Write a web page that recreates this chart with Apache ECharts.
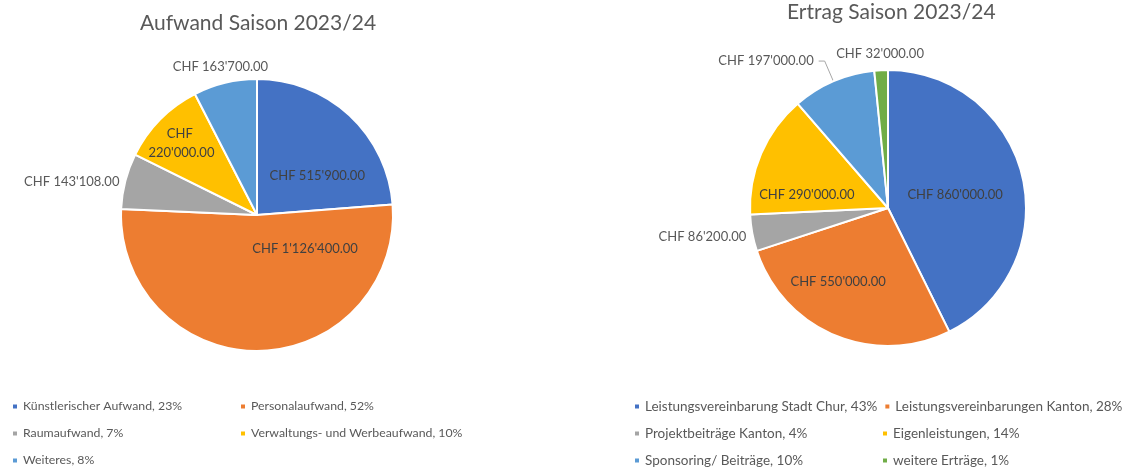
<!DOCTYPE html>
<html>
<head>
<meta charset="utf-8">
<script src="https://cdn.jsdelivr.net/npm/echarts@6/dist/echarts.min.js"></script>
<style>
  html, body { margin: 0; background: #fff; }
  #chart { width: 1146px; height: 469px; }
</style>
</head>
<body>
<div id="chart"></div>
<script>
// Aufwand (left pie)
const aufwandNames = ['Künstlerischer Aufwand', 'Personalaufwand', 'Raumaufwand', 'Verwaltungs- und Werbeaufwand', 'Weiteres'];
const aufwandValues = [515900, 1126400, 143108, 220000, 163700];
const aufwandPct = [23, 52, 7, 10, 8];
// Ertrag (right pie)
const ertragNames = ['Leistungsvereinbarung Stadt Chur', 'Leistungsvereinbarungen Kanton', 'Projektbeiträge Kanton', 'Eigenleistungen', 'Sponsoring/ Beiträge', 'weitere Erträge'];
const ertragValues = [860000, 550000, 86200, 290000, 197000, 32000];
const ertragPct = [43, 28, 4, 14, 10, 1];

const colors = ['#4472C4', '#ED7D31', '#A5A5A5', '#FFC000', '#5B9BD5', '#70AD47'];
const font = 'Lato';

// label placement tweaks (excel "best fit" look)
const aufwandInside = [true, true, false, true, false];
const aufwandShift = [{ dx: 12, dy: 13 }, { dx: 47, dy: -37 }, { dx: 3, dy: 2 }, { dx: -25, dy: -22 }, { dx: 49, dy: -12 }];
const ertragInside = [true, true, false, true, false, false];
const ertragShift = [{ dx: -3, dy: 3 }, { dx: -22, dy: 7 }, { dx: 3, dy: 3 }, { dx: -15, dy: 15 }, {}, { dx: 48, dy: -12 }];

function chf(v) {
  return 'CHF ' + v.toFixed(2).replace(/\B(?=(\d{3})+(?!\d))/g, "'");
}

function legendFormatter(names, pct) {
  return function (name) {
    return name + ', ' + pct[names.indexOf(name)] + '%';
  };
}

function pieSeries(names, values, center, radius, inside, shift) {
  return {
    type: 'pie',
    center: center,
    radius: radius,
    startAngle: 90,
    clockwise: true,
    avoidLabelOverlap: false,
    emphasis: { disabled: true },
    itemStyle: { borderColor: '#fff', borderWidth: 2 },
    label: {
      formatter: p => chf(p.value),
      fontFamily: font,
      fontSize: 13,
      color: '#404040'
    },
    labelLine: { show: false, length: 4, length2: 0 },
    labelLayout: p => shift[p.dataIndex],
    data: names.map((n, i) => ({
      name: n,
      value: values[i],
      itemStyle: { color: colors[i] },
      label: inside[i]
        ? { position: 'inside' }
        : { position: 'outside', color: '#595959' }
    }))
  };
}

const aufwand = pieSeries(aufwandNames, aufwandValues, [257, 215], 136, aufwandInside, aufwandShift);
aufwand.data[3].label.width = 75;
aufwand.data[3].label.overflow = 'break';
aufwand.data[3].label.lineHeight = 19;

const ertrag = pieSeries(ertragNames, ertragValues, [888, 208], 138, ertragInside, ertragShift);
ertrag.data[4].labelLine = { show: true, length: 22, length2: 6, lineStyle: { color: '#a6a6a6', width: 1 } };

const legendBase = {
  orient: 'horizontal',
  padding: 0,
  icon: 'rect',
  itemWidth: 6,
  itemHeight: 6,
  selectedMode: false
};

const chart = echarts.init(document.getElementById('chart'));
chart.setOption({
  animation: false,
  color: colors,
  title: [
    { text: 'Aufwand Saison 2023/24', left: 135, top: 8, textStyle: { fontFamily: font, fontSize: 21, fontWeight: 'normal', color: '#595959' } },
    { text: 'Ertrag Saison 2023/24', left: 782, top: -3, textStyle: { fontFamily: font, fontSize: 21, fontWeight: 'normal', color: '#595959' } }
  ],
  legend: [
    Object.assign({}, legendBase, {
      data: aufwandNames,
      left: 11,
      top: 398,
      width: 470,
      itemGap: 10,
      formatter: legendFormatter(aufwandNames, aufwandPct),
      textStyle: { fontFamily: font, fontSize: 12.3, color: '#595959', width: 206, lineHeight: 17 }
    }),
    Object.assign({}, legendBase, {
      data: ertragNames,
      left: 633,
      top: 396,
      width: 505,
      itemGap: 6,
      formatter: legendFormatter(ertragNames, ertragPct),
      textStyle: { fontFamily: font, fontSize: 13.5, color: '#595959', width: 230, lineHeight: 21 }
    })
  ],
  series: [aufwand, ertrag]
});
</script>
</body>
</html>
